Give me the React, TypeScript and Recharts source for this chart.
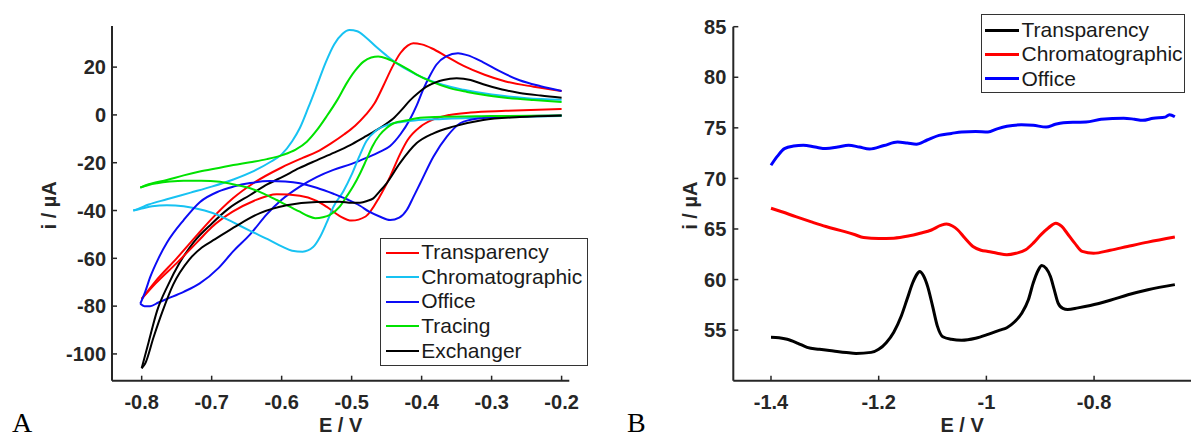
import React from 'react';
import { LineChart, Line, XAxis, YAxis, Legend } from 'recharts';

type Pair = [number, number];

// ---- Panel A: cyclic voltammograms (E / V, i / uA), each loop split into two branches ----
const transparencyUp: Pair[] = [
  [-0.8, -77], [-0.78, -69.5], [-0.75, -60], [-0.72, -50], [-0.7, -43.5], [-0.67, -35], [-0.64, -28.5],
  [-0.6, -22], [-0.57, -18], [-0.55, -15.5], [-0.53, -12], [-0.51, -8], [-0.495, -4.5], [-0.48, 0],
  [-0.467, 5], [-0.455, 12], [-0.442, 20], [-0.43, 26], [-0.42, 29], [-0.412, 30], [-0.4, 29.5],
  [-0.385, 27.8], [-0.365, 24.5], [-0.34, 20.5], [-0.31, 16.8], [-0.28, 14], [-0.24, 11.8], [-0.2, 10],
];
const transparencyDown: Pair[] = [
  [-0.8, -77], [-0.78, -70.5], [-0.75, -62], [-0.72, -53], [-0.7, -47], [-0.67, -40.5], [-0.64, -36],
  [-0.607, -33.2], [-0.574, -33.8], [-0.55, -36], [-0.536, -38.4], [-0.517, -42.3], [-0.5, -44.2],
  [-0.48, -42.5], [-0.46, -34.2], [-0.445, -25.8], [-0.431, -16.5], [-0.42, -10.5], [-0.402, -5],
  [-0.384, -2], [-0.36, 0], [-0.33, 1], [-0.28, 1.7], [-0.2, 2.5],
];
const chromatographicUp: Pair[] = [
  [-0.812, -40], [-0.805, -39.3], [-0.79, -37.5], [-0.764, -35.3], [-0.73, -32.5], [-0.7, -30],
  [-0.669, -27], [-0.64, -23.5], [-0.615, -19.5], [-0.6, -16.5], [-0.585, -11], [-0.574, -5.5],
  [-0.562, 3], [-0.55, 12], [-0.537, 22], [-0.525, 29.5], [-0.513, 34], [-0.503, 35.5], [-0.492, 35],
  [-0.48, 32.5], [-0.465, 28.5], [-0.45, 24.8], [-0.44, 22.5], [-0.42, 18.8], [-0.4, 15.8],
  [-0.37, 12.6], [-0.34, 10.5], [-0.3, 8.5], [-0.25, 7], [-0.2, 6.3],
];
const chromatographicDown: Pair[] = [
  [-0.812, -40], [-0.8, -39.2], [-0.785, -38.2], [-0.764, -37.8], [-0.74, -38.2], [-0.71, -40],
  [-0.69, -42], [-0.669, -45], [-0.645, -48.5], [-0.62, -52], [-0.6, -55], [-0.585, -56.8],
  [-0.57, -57.2], [-0.555, -55.3], [-0.545, -51], [-0.536, -45.3], [-0.526, -38.4], [-0.512, -32],
  [-0.5, -25], [-0.49, -18], [-0.479, -11], [-0.465, -6.5], [-0.45, -4.3], [-0.435, -3.2],
  [-0.41, -2.3], [-0.37, -1.7], [-0.3, -1], [-0.2, -0.4],
];
const officeUp: Pair[] = [
  [-0.802, -79], [-0.796, -80], [-0.788, -80], [-0.776, -78.5], [-0.764, -77], [-0.74, -74],
  [-0.717, -70.5], [-0.69, -64], [-0.669, -57], [-0.645, -50], [-0.621, -41.5], [-0.6, -35.5],
  [-0.574, -30], [-0.55, -26], [-0.526, -23], [-0.5, -20.5], [-0.479, -18], [-0.46, -15.5],
  [-0.445, -13], [-0.43, -8], [-0.417, -2], [-0.407, 4], [-0.398, 10.5], [-0.388, 16.5], [-0.379, 21],
  [-0.365, 24.5], [-0.348, 25.8], [-0.335, 25], [-0.312, 22], [-0.29, 18.5], [-0.26, 14.5],
  [-0.23, 12], [-0.2, 10],
];
const officeDown: Pair[] = [
  [-0.802, -79], [-0.795, -74], [-0.788, -68], [-0.776, -60], [-0.764, -53.5], [-0.74, -44],
  [-0.717, -36.5], [-0.69, -32], [-0.669, -30], [-0.645, -28.5], [-0.617, -27.7], [-0.595, -27.9],
  [-0.574, -28.6], [-0.55, -30.5], [-0.526, -33], [-0.505, -35.5], [-0.488, -38], [-0.475, -40.5],
  [-0.46, -42.5], [-0.445, -44], [-0.432, -43], [-0.421, -39.7], [-0.412, -34.5], [-0.402, -28.6],
  [-0.383, -17.4], [-0.364, -9.1], [-0.345, -3.5], [-0.33, -2], [-0.312, -1.3], [-0.28, -0.7],
  [-0.2, -0.2],
];
const tracingUp: Pair[] = [
  [-0.802, -30.4], [-0.79, -29], [-0.764, -27.2], [-0.74, -25.3], [-0.717, -23.7], [-0.69, -22.2],
  [-0.669, -21], [-0.645, -19.8], [-0.621, -18.5], [-0.598, -16.7], [-0.58, -14.5], [-0.564, -11.2],
  [-0.55, -6.5], [-0.536, -0.7], [-0.52, 6.5], [-0.507, 13.3], [-0.495, 18.5], [-0.483, 22.3],
  [-0.472, 24], [-0.462, 24.4], [-0.45, 23.6], [-0.44, 22.3], [-0.42, 19.2], [-0.407, 16.9],
  [-0.385, 13.8], [-0.36, 11.2], [-0.335, 9.6], [-0.312, 8.4], [-0.28, 7.2], [-0.24, 6.2], [-0.2, 5.4],
];
const tracingDown: Pair[] = [
  [-0.802, -30.4], [-0.79, -29.3], [-0.778, -28.6], [-0.76, -27.9], [-0.74, -27.5], [-0.715, -27.5],
  [-0.688, -28], [-0.665, -29.3], [-0.645, -30.7], [-0.625, -33], [-0.607, -35.6], [-0.59, -38.2],
  [-0.574, -40.5], [-0.563, -42.2], [-0.552, -43.2], [-0.541, -42.8], [-0.531, -41.8], [-0.517, -38.4],
  [-0.508, -34.5], [-0.498, -30], [-0.488, -24.5], [-0.479, -18.8], [-0.47, -13], [-0.46, -8.4],
  [-0.45, -5.5], [-0.44, -3.5], [-0.42, -2.2], [-0.407, -1.4], [-0.38, -0.9], [-0.3, -0.5], [-0.2, -0.2],
];
const exchangerUp: Pair[] = [
  [-0.8, -106], [-0.79, -95], [-0.778, -82], [-0.762, -71], [-0.746, -62], [-0.725, -53], [-0.7, -45.5],
  [-0.675, -39], [-0.645, -33.5], [-0.62, -29], [-0.598, -25.8], [-0.575, -22.3], [-0.55, -19],
  [-0.525, -15.8], [-0.502, -12.6], [-0.483, -9.5], [-0.464, -6.3], [-0.45, -3.6], [-0.44, -1.4],
  [-0.428, 2.3], [-0.417, 6], [-0.405, 9.2], [-0.393, 11.8], [-0.38, 13.6], [-0.369, 14.6], [-0.35, 15.3],
  [-0.33, 14.6], [-0.312, 12.8], [-0.285, 10.6], [-0.26, 9.2], [-0.23, 8.1], [-0.2, 7.2],
];
const exchangerDown: Pair[] = [
  [-0.8, -106], [-0.795, -104], [-0.783, -93], [-0.77, -82], [-0.755, -71], [-0.732, -60.5],
  [-0.714, -55.5], [-0.695, -52], [-0.665, -46.5], [-0.631, -41.1], [-0.593, -37.8], [-0.55, -36.4],
  [-0.517, -36.3], [-0.5, -36.8], [-0.488, -36.7], [-0.478, -36], [-0.469, -34.9], [-0.46, -32],
  [-0.45, -28.6], [-0.431, -20.2], [-0.407, -11.8], [-0.383, -7.7], [-0.355, -4.9], [-0.312, -2.1],
  [-0.26, -0.9], [-0.2, -0.2],
];
const cvNames = ['Transparency', 'Chromatographic', 'Office', 'Tracing', 'Exchanger'];
const cvTicksX = [-0.8, -0.7, -0.6, -0.5, -0.4, -0.3, -0.2];
const cvTicksY = [-100, -80, -60, -40, -20, 0, 20];

// ---- Panel B: differential pulse voltammograms ----
const dpvTransparency: Pair[] = [
  [-1.4, 54.3], [-1.385, 54.25], [-1.37, 54.1], [-1.35, 53.7], [-1.333, 53.3], [-1.31, 53.1],
  [-1.284, 52.93], [-1.26, 52.78], [-1.242, 52.7], [-1.214, 52.8], [-1.2, 53.1], [-1.186, 53.76],
  [-1.172, 54.8], [-1.158, 56.4], [-1.147, 58.1], [-1.137, 59.66], [-1.128, 60.6], [-1.124, 60.8],
  [-1.117, 60.4], [-1.109, 59.3], [-1.1, 57.4], [-1.091, 55.4], [-1.081, 54.35], [-1.065, 54.1],
  [-1.046, 54.0], [-1.02, 54.2], [-0.997, 54.58], [-0.975, 55.0], [-0.962, 55.24], [-0.948, 55.8],
  [-0.934, 56.7], [-0.922, 58.0], [-0.913, 59.66], [-0.904, 60.9], [-0.897, 61.4], [-0.889, 61.1],
  [-0.881, 60.3], [-0.874, 59.0], [-0.867, 57.7], [-0.858, 57.15], [-0.849, 57.04], [-0.83, 57.2],
  [-0.807, 57.43], [-0.77, 57.95], [-0.737, 58.5], [-0.7, 59.0], [-0.65, 59.5],
];
const dpvChromatographic: Pair[] = [
  [-1.4, 67.05], [-1.38, 66.7], [-1.354, 66.22], [-1.325, 65.7], [-1.298, 65.24], [-1.263, 64.74],
  [-1.245, 64.45], [-1.228, 64.15], [-1.2, 64.05], [-1.172, 64.09], [-1.145, 64.3], [-1.123, 64.58],
  [-1.102, 64.9], [-1.085, 65.35], [-1.074, 65.5], [-1.063, 65.3], [-1.053, 64.9], [-1.04, 64.1],
  [-1.025, 63.27], [-1.01, 62.9], [-0.997, 62.78], [-0.98, 62.6], [-0.962, 62.45], [-0.945, 62.6],
  [-0.927, 62.94], [-0.913, 63.6], [-0.899, 64.42], [-0.885, 65.1], [-0.871, 65.57], [-0.86, 65.25],
  [-0.85, 64.58], [-0.836, 63.6], [-0.822, 62.78], [-0.801, 62.6], [-0.77, 62.9], [-0.738, 63.27],
  [-0.7, 63.7], [-0.65, 64.2],
];
const dpvOffice: Pair[] = [
  [-1.4, 71.3], [-1.388, 72.2], [-1.375, 72.95], [-1.358, 73.2], [-1.34, 73.28], [-1.318, 73.1],
  [-1.298, 72.95], [-1.276, 73.1], [-1.256, 73.28], [-1.236, 73.1], [-1.217, 72.9], [-1.19, 73.25],
  [-1.165, 73.6], [-1.147, 73.5], [-1.13, 73.38], [-1.11, 73.8], [-1.088, 74.26], [-1.065, 74.45],
  [-1.046, 74.6], [-1.02, 74.65], [-0.997, 74.6], [-0.98, 74.9], [-0.962, 75.15], [-0.935, 75.3],
  [-0.913, 75.25], [-0.889, 75.08], [-0.872, 75.35], [-0.857, 75.5], [-0.835, 75.55], [-0.815, 75.57],
  [-0.787, 75.84], [-0.745, 75.96], [-0.725, 75.85], [-0.71, 75.74], [-0.69, 75.95], [-0.668, 76.06],
  [-0.66, 76.3], [-0.65, 76.1],
];
const dpvNames = ['Transparency', 'Chromatographic', 'Office'];
const dpvTicksX = [-1.4, -1.2, -1, -0.8];
const dpvTicksY = [55, 60, 65, 70, 75, 80, 85];

const FONT = '"Liberation Sans", Arial, Helvetica, sans-serif';
const INK = '#262626';

const toPoints = (pairs: Pair[]) => pairs.map(([e, i]) => ({ e, i }));

const cvSeries = [
  { name: cvNames[0], color: '#ff0000', up: transparencyUp, down: transparencyDown },
  { name: cvNames[1], color: '#17c2f2', up: chromatographicUp, down: chromatographicDown },
  { name: cvNames[2], color: '#0c0cf5', up: officeUp, down: officeDown },
  { name: cvNames[3], color: '#00e200', up: tracingUp, down: tracingDown },
  { name: cvNames[4], color: '#000000', up: exchangerUp, down: exchangerDown },
];

const dpvSeries = [
  { name: dpvNames[0], color: '#000000', data: dpvTransparency },
  { name: dpvNames[1], color: '#ff0000', data: dpvChromatographic },
  { name: dpvNames[2], color: '#0000ff', data: dpvOffice },
];

const axisStyle = { stroke: INK, strokeWidth: 2 };
const tickStyle = { stroke: INK, strokeWidth: 1.5 };
const labelStyle: React.CSSProperties = { fill: INK, fontSize: 20, fontWeight: 'bold', fontFamily: FONT };
const tickText: React.CSSProperties = { fill: INK, fontSize: 20, fontWeight: 'bold', fontFamily: FONT };

// bold tick labels, drawn by hand so the weight is kept
const xTick = (props: any) => (
  <text x={props.x} y={props.y} dy="0.7em" textAnchor="middle" style={tickText}>
    {props.payload.value}
  </text>
);
const yTick = (props: any) => (
  <text x={props.x} y={props.y} dy="0.36em" textAnchor="end" style={tickText}>
    {props.payload.value}
  </text>
);

const xLabel = (props: any) => {
  const { x, y, width, height } = props.viewBox;
  return (
    <text x={x + width / 2} y={y + height - 6} textAnchor="middle" style={labelStyle}>
      E / V
    </text>
  );
};

const yLabel = (cx: number) => (props: any) => {
  const { y, height } = props.viewBox;
  const cy = y + height / 2 + 2;
  return (
    <text x={cx} y={cy} transform={`rotate(-90 ${cx} ${cy})`} textAnchor="middle" dominantBaseline="central" style={labelStyle}>
      i / µA
    </text>
  );
};

// MATLAB-like boxed legend; one row per series, in the order of `names`
const legendBox = (names: string[], padTop: number, padLeft: number, rowH: number, sample: number, thick: number) => (props: any) => {
  const items = names
    .map((n) => (props.payload || []).find((p: any) => p.value === n))
    .filter(Boolean);
  return (
    <div
      style={{
        boxSizing: 'border-box',
        width: '100%',
        height: '100%',
        border: '1.5px solid #333',
        background: '#fff',
        paddingTop: padTop,
        paddingLeft: padLeft,
      }}
    >
      {items.map((entry: any) => (
        <div key={entry.value} style={{ display: 'flex', alignItems: 'center', height: rowH }}>
          <span style={{ display: 'inline-block', width: sample, height: thick, background: entry.color, marginRight: 2 }} />
          <span style={{ fontFamily: FONT, fontSize: 21, color: '#1a1a1a', lineHeight: `${rowH}px`, whiteSpace: 'nowrap' }}>
            {entry.value}
          </span>
        </div>
      ))}
    </div>
  );
};

export default function App() {
  return (
    <div style={{ position: 'absolute', left: 0, top: 0, width: 1191, height: 438, background: '#fff', overflow: 'hidden' }}>
      <div style={{ position: 'absolute', left: 0, top: 0 }}>
        <LineChart width={600} height={438} margin={{ top: 26, right: 30.7, bottom: 0, left: 0 }}>
          <XAxis
            type="number"
            dataKey="e"
            domain={[-0.8424, -0.189]}
            ticks={cvTicksX}
            interval={0}
            height={57.3}
            tickSize={-5}
            tickMargin={19.3}
            axisLine={axisStyle}
            tickLine={tickStyle}
            tick={xTick}
            label={xLabel}
          />
          <YAxis
            type="number"
            domain={[-111.2, 37.2]}
            ticks={cvTicksY}
            interval={0}
            width={112}
            tickSize={-5}
            tickMargin={11}
            axisLine={axisStyle}
            tickLine={tickStyle}
            tick={yTick}
            label={yLabel(49)}
          />
          {cvSeries.map((s) => (
            <Line
              key={s.name + '-up'}
              data={toPoints(s.up)}
              dataKey="i"
              name={s.name}
              type="monotone"
              stroke={s.color}
              strokeWidth={2}
              dot={false}
              activeDot={false}
              isAnimationActive={false}
            />
          ))}
          {cvSeries.map((s) => (
            <Line
              key={s.name + '-down'}
              data={toPoints(s.down)}
              dataKey="i"
              name={s.name}
              legendType="none"
              type="monotone"
              stroke={s.color}
              strokeWidth={2}
              dot={false}
              activeDot={false}
              isAnimationActive={false}
            />
          ))}
          <Legend
            layout="horizontal"
            verticalAlign="middle"
            align="center"
            wrapperStyle={{ left: 380, top: 238.3, width: 208, height: 128 }}
            content={legendBox(cvNames, 1, 5.2, 24.6, 33, 2)}
          />
        </LineChart>
      </div>

      <div style={{ position: 'absolute', left: 600, top: 0 }}>
        <LineChart width={591} height={438} margin={{ top: 26.7, right: 0, bottom: 0, left: 0 }}>
          <XAxis
            type="number"
            dataKey="e"
            domain={[-1.47, -0.62]}
            ticks={dpvTicksX}
            interval={0}
            height={57.3}
            tickSize={-5}
            tickMargin={19.3}
            axisLine={axisStyle}
            tickLine={tickStyle}
            tick={xTick}
            label={xLabel}
          />
          <YAxis
            type="number"
            domain={[50, 85]}
            ticks={dpvTicksY}
            interval={0}
            width={133.3}
            tickSize={-5}
            tickMargin={12}
            axisLine={axisStyle}
            tickLine={tickStyle}
            tick={yTick}
            label={yLabel(90)}
          />
          {dpvSeries.map((s) => (
            <Line
              key={s.name}
              data={toPoints(s.data)}
              dataKey="i"
              name={s.name}
              type="monotone"
              stroke={s.color}
              strokeWidth={3}
              dot={false}
              activeDot={false}
              isAnimationActive={false}
            />
          ))}
          <Legend
            layout="horizontal"
            verticalAlign="middle"
            align="center"
            wrapperStyle={{ left: 380.7, top: 14, width: 204, height: 79.3 }}
            content={legendBox(dpvNames, 3, 3.8, 24.3, 34, 3)}
          />
        </LineChart>
      </div>

      <svg width={1191} height={438} style={{ position: 'absolute', left: 0, top: 0, pointerEvents: 'none' }}>
        <text x={12} y={432} style={{ fontFamily: '"Liberation Serif", "Times New Roman", serif', fontSize: 28 }}>A</text>
        <text x={627} y={432} style={{ fontFamily: '"Liberation Serif", "Times New Roman", serif', fontSize: 28 }}>B</text>
      </svg>
    </div>
  );
}
